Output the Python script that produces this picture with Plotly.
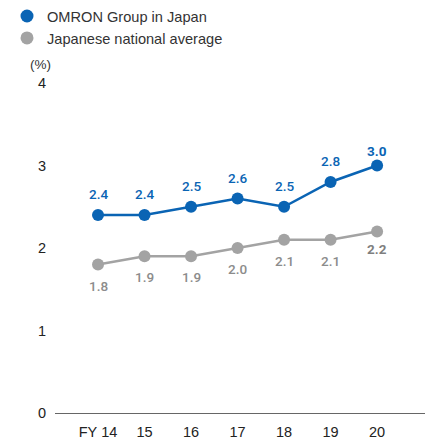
import plotly.graph_objects as go

years = ["FY\u00a014", "15", "16", "17", "18", "19", "20"]
omron = [2.4, 2.4, 2.5, 2.6, 2.5, 2.8, 3.0]
national = [1.8, 1.9, 1.9, 2.0, 2.1, 2.1, 2.2]
omron_name = "OMRON Group in Japan"
national_name = "Japanese national average"
y_ticks = [0, 1, 2, 3, 4]

BLUE = "#0a64b4"
GRAY = "#a3a3a3"
xs = list(range(len(years)))
label_font = "Roboto, sans-serif"

fig = go.Figure()
fig.add_trace(go.Scatter(x=xs, y=national, mode="lines+markers",
                         line=dict(color=GRAY, width=2.5),
                         marker=dict(color=GRAY, size=12), showlegend=False, hoverinfo="skip"))
fig.add_trace(go.Scatter(x=xs, y=omron, mode="lines+markers",
                         line=dict(color=BLUE, width=2.5),
                         marker=dict(color=BLUE, size=12), showlegend=False, hoverinfo="skip"))
# legend entries
fig.add_trace(go.Scatter(x=[None], y=[None], mode="markers", name=omron_name,
                         marker=dict(color=BLUE, size=13)))
fig.add_trace(go.Scatter(x=[None], y=[None], mode="markers", name=national_name,
                         marker=dict(color=GRAY, size=13)))

annotations = []
n = len(years)
for i, v in enumerate(omron):
    last = i == n - 1
    annotations.append(dict(x=xs[i], y=v, xref="x", yref="y", text=f"{v:.1f}",
                            showarrow=False, yshift=15 if last else 21,
                            font=dict(family=label_font, size=13.5, color=BLUE,
                                      weight="bold" if last else 500)))
for i, v in enumerate(national):
    last = i == n - 1
    annotations.append(dict(x=xs[i], y=v, xref="x", yref="y", text=f"{v:.1f}",
                            showarrow=False, yshift=-17 if last else -21,
                            font=dict(family=label_font, size=13.5,
                                      color="#7f7f7f" if last else "#8c8c8c",
                                      weight="bold" if last else 500)))
annotations.append(dict(x=-0.0405, y=1.057, xref="paper", yref="paper", text="(%)",
                        xanchor="center", yanchor="middle",
                        showarrow=False, font=dict(size=13.5, color="#333333")))

fig.update_layout(
    width=446, height=445,
    margin=dict(l=55, r=21, t=83, b=32, autoexpand=False),
    paper_bgcolor="white", plot_bgcolor="white",
    font=dict(family="Liberation Sans, Arial, sans-serif", size=14, color="#333333"),
    legend=dict(x=7 / 446, y=1 + 2 / 445, xref="container", yref="container",
                xanchor="left", yanchor="top",
                font=dict(size=14.6, color="#333333"), itemwidth=30,
                tracegroupgap=0, bgcolor="rgba(0,0,0,0)"),
    annotations=annotations,
    xaxis=dict(range=[-0.925, 7.03], tickmode="array", tickvals=xs, ticktext=years,
               showgrid=False, zeroline=False, showline=True, linecolor="#666666", linewidth=1,
               ticks="", ticklabelstandoff=6,
               tickfont=dict(size=14.5, color="#222222"), fixedrange=True),
    yaxis=dict(range=[0, 4], tickmode="array", tickvals=y_ticks,
               ticktext=[str(t) for t in y_ticks],
               showgrid=False, zeroline=False, showline=False, ticks="",
               ticklabelstandoff=8,
               tickfont=dict(size=14.5, color="#222222"), fixedrange=True),
)

fig.write_html("out.html", config={"displayModeBar": False},
               post_script="document.body.style.margin='0';")
